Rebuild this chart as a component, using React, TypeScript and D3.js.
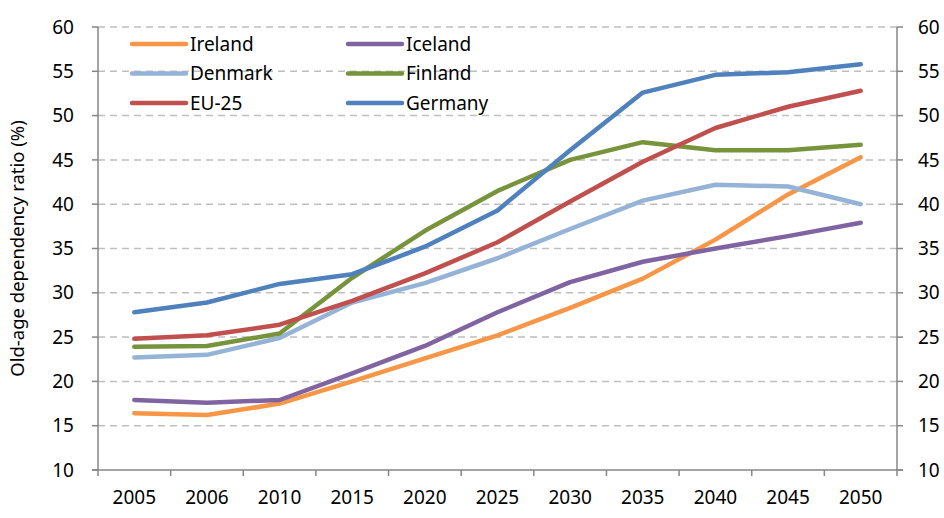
import React from 'react';
import * as d3 from 'd3';

const years = ['2005', '2006', '2010', '2015', '2020', '2025', '2030', '2035', '2040', '2045', '2050'];
const yTicks = [10, 15, 20, 25, 30, 35, 40, 45, 50, 55, 60];

const ireland = [16.4, 16.2, 17.5, 20.0, 22.6, 25.2, 28.3, 31.6, 36.0, 41.1, 45.3];
const iceland = [17.9, 17.6, 17.9, 20.9, 24.0, 27.8, 31.2, 33.5, 35.0, 36.4, 37.9];
const denmark = [22.7, 23.0, 24.9, 28.9, 31.1, 33.9, 37.2, 40.4, 42.2, 42.0, 40.0];
const finland = [23.9, 24.0, 25.4, 31.7, 37.0, 41.5, 45.0, 47.0, 46.1, 46.1, 46.7];
const eu25 = [24.8, 25.2, 26.4, 29.1, 32.2, 35.7, 40.3, 44.8, 48.6, 51.0, 52.8];
const germany = [27.8, 28.9, 31.0, 32.1, 35.2, 39.3, 46.1, 52.6, 54.6, 54.9, 55.8];

const series = [
  { name: 'Ireland', values: ireland, color: '#f79646' },
  { name: 'Iceland', values: iceland, color: '#8064a2' },
  { name: 'Denmark', values: denmark, color: '#95b3d7' },
  { name: 'Finland', values: finland, color: '#77933c' },
  { name: 'EU-25', values: eu25, color: '#c0504d' },
  { name: 'Germany', values: germany, color: '#4f81bd' },
];

const W = 944;
const H = 518;
const left = 98;
const right = 897;
const top = 27;
const bottom = 470;
const font = '"Noto Sans", sans-serif';
const axisColor = '#868686';

export default function App() {
  const x = d3.scaleBand<string>().domain(years).range([left, right]);
  const y = d3.scaleLinear().domain([10, 60]).range([bottom, top]);
  const cx = (i: number) => (x(years[i]) as number) + x.bandwidth() / 2;
  const line = d3
    .line<number>()
    .x((_, i) => cx(i))
    .y((d) => y(d));

  const bounds = years.map((yr) => x(yr) as number).concat([right]);

  return (
    <svg
      width={W}
      height={H}
      style={{ position: 'absolute', left: 0, top: 0, background: '#fff' }}
      fontFamily={font}
    >
      {/* grid */}
      {yTicks.filter((t) => t > 10).map((t) => (
        <line key={'g' + t} x1={left} x2={right} y1={y(t)} y2={y(t)}
          stroke="#bfbfbf" strokeWidth={1.5} strokeDasharray="7,5" />
      ))}

      {/* axes */}
      <line x1={left} x2={left} y1={top} y2={bottom} stroke={axisColor} strokeWidth={1.5} />
      <line x1={right} x2={right} y1={top} y2={bottom} stroke={axisColor} strokeWidth={1.5} />
      <line x1={left - 6} x2={right + 6} y1={bottom} y2={bottom} stroke={axisColor} strokeWidth={1.5} />
      {yTicks.map((t) => (
        <g key={'t' + t}>
          <line x1={left - 6} x2={left} y1={y(t)} y2={y(t)} stroke={axisColor} strokeWidth={1.5} />
          <line x1={right} x2={right + 6} y1={y(t)} y2={y(t)} stroke={axisColor} strokeWidth={1.5} />
          <text x={74} y={y(t)} dy="0.35em" textAnchor="end" fontSize={19} fill="#000">{t}</text>
          <text x={918} y={y(t)} dy="0.35em" textAnchor="start" fontSize={19} fill="#000">{t}</text>
        </g>
      ))}
      {bounds.map((b, i) => (
        <line key={'b' + i} x1={b} x2={b} y1={bottom} y2={bottom + 6} stroke={axisColor} strokeWidth={1.5} />
      ))}
      {years.map((yr, i) => (
        <text key={yr} x={cx(i)} y={504} textAnchor="middle" fontSize={19} fill="#000">{yr}</text>
      ))}

      <text transform={`translate(24,${(top + bottom) / 2}) rotate(-90)`} textAnchor="middle"
        fontSize={18.5} fill="#000">Old-age dependency ratio (%)</text>

      {/* series */}
      {series.map((s) => (
        <path key={s.name} d={line(s.values) as string} fill="none" stroke={s.color}
          strokeWidth={4.5} strokeLinecap="round" strokeLinejoin="round" />
      ))}

      {/* legend */}
      {series.map((s, i) => {
        const col = i % 2;
        const row = Math.floor(i / 2);
        const lx = col === 0 ? 132 : 348;
        const ly = 44 + row * 29.5;
        return (
          <g key={'l' + s.name}>
            <line x1={lx} x2={lx + 54} y1={ly} y2={ly} stroke={s.color} strokeWidth={4.5} strokeLinecap="round" />
            <text x={lx + 58} y={ly} dy="0.35em" fontSize={19} fill="#000">{s.name}</text>
          </g>
        );
      })}
    </svg>
  );
}
